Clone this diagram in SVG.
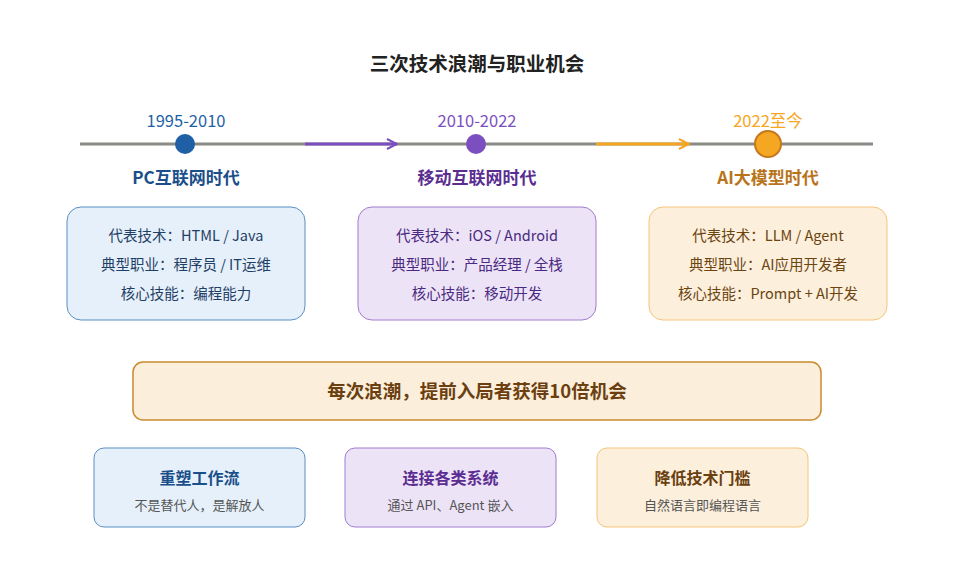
<svg xmlns="http://www.w3.org/2000/svg" width="953" height="586" viewBox="0 0 953 586">
<style>
text{font-family:"Noto Sans CJK SC","Noto Sans",sans-serif;text-anchor:middle}
.title{font-size:19.5px;font-weight:bold;fill:#222}
.yr{font-size:16.5px}
.era{font-size:17px;font-weight:bold}
.ln{font-size:14.5px}
.ban{font-size:18.5px;font-weight:bold;fill:#6b3f10}
.ct{font-size:16px;font-weight:bold}
.cs{font-size:13px;fill:#555}
</style>
<defs>
<marker id="ap" viewBox="0 0 12 12" refX="11" refY="6" markerWidth="12" markerHeight="12" markerUnits="userSpaceOnUse" orient="auto"><path d="M1,1 L11,6 L1,11" fill="none" stroke="#7b4fc0" stroke-width="2"/></marker>
<marker id="ao" viewBox="0 0 12 12" refX="11" refY="6" markerWidth="12" markerHeight="12" markerUnits="userSpaceOnUse" orient="auto"><path d="M1,1 L11,6 L1,11" fill="none" stroke="#f5a623" stroke-width="2"/></marker>
</defs>
<rect width="953" height="586" fill="#fff"/>
<text class="title" x="477" y="71">三次技术浪潮与职业机会</text>
<g id="connectors">
<line x1="80" y1="144" x2="873" y2="144" stroke="#8a8a85" stroke-width="3"/>
<line x1="305" y1="144" x2="397" y2="144" stroke="#7b4fc0" stroke-width="3" marker-end="url(#ap)"/>
<line x1="596" y1="144" x2="689" y2="144" stroke="#f5a623" stroke-width="3" marker-end="url(#ao)"/>
</g>
<g id="era1">
<circle cx="185" cy="144" r="10" fill="#1f5fa6"/>
<text class="yr" x="186" y="127" fill="#1f5fa6">1995-2010</text>
<text class="era" x="186" y="184" fill="#1a4f8a">PC互联网时代</text>
</g>
<g id="era2">
<circle cx="476" cy="144" r="10" fill="#7b4fc0"/>
<text class="yr" x="477" y="127" fill="#7b4fc0">2010-2022</text>
<text class="era" x="477" y="184" fill="#5b2d91">移动互联网时代</text>
</g>
<g id="era3">
<circle cx="768" cy="144" r="13" fill="#f5a623" stroke="#c57a1a" stroke-width="2"/>
<text class="yr" x="768" y="127" fill="#f5a623">2022至今</text>
<text class="era" x="768" y="184" fill="#b8741a">AI大模型时代</text>
</g>
<g id="box1">
<rect x="67" y="207" width="238" height="113" rx="14" fill="#e6f0fa" stroke="#5a8fc4"/>
<text class="ln" x="186" y="241" fill="#1f3f66">代表技术：HTML / Java</text>
<text class="ln" x="186" y="270" fill="#1f3f66">典型职业：程序员 / IT运维</text>
<text class="ln" x="186" y="299" fill="#1f3f66">核心技能：编程能力</text>
</g>
<g id="box2">
<rect x="358" y="207" width="238" height="113" rx="14" fill="#ede3f7" stroke="#a07cd0"/>
<text class="ln" x="477" y="241" fill="#4a2a80">代表技术：iOS / Android</text>
<text class="ln" x="477" y="270" fill="#4a2a80">典型职业：产品经理 / 全栈</text>
<text class="ln" x="477" y="299" fill="#4a2a80">核心技能：移动开发</text>
</g>
<g id="box3">
<rect x="649" y="207" width="238" height="113" rx="14" fill="#fcefdc" stroke="#f5c57a"/>
<text class="ln" x="768" y="241" fill="#6b4410">代表技术：LLM / Agent</text>
<text class="ln" x="768" y="270" fill="#6b4410">典型职业：AI应用开发者</text>
<text class="ln" x="768" y="299" fill="#6b4410">核心技能：Prompt + AI开发</text>
</g>
<g id="banner">
<rect x="133" y="362" width="688" height="58" rx="10" fill="#fbeedb" stroke="#c98a30" stroke-width="1.5"/>
<text class="ban" x="477" y="398">每次浪潮，提前入局者获得10倍机会</text>
</g>
<g id="card1">
<rect x="94" y="448" width="211" height="79" rx="10" fill="#e6f0fa" stroke="#5a8fc4"/>
<text class="ct" x="199.5" y="484" fill="#1a4f8a">重塑工作流</text>
<text class="cs" x="199.5" y="510">不是替代人，是解放人</text>
</g>
<g id="card2">
<rect x="345" y="448" width="211" height="79" rx="10" fill="#ede3f7" stroke="#a07cd0"/>
<text class="ct" x="450.5" y="484" fill="#5b2d91">连接各类系统</text>
<text class="cs" x="450.5" y="510">通过 API、Agent 嵌入</text>
</g>
<g id="card3">
<rect x="597" y="448" width="211" height="79" rx="10" fill="#fcefdc" stroke="#f5c57a"/>
<text class="ct" x="702.5" y="484" fill="#6b3f10">降低技术门槛</text>
<text class="cs" x="702.5" y="510">自然语言即编程语言</text>
</g>
</svg>
